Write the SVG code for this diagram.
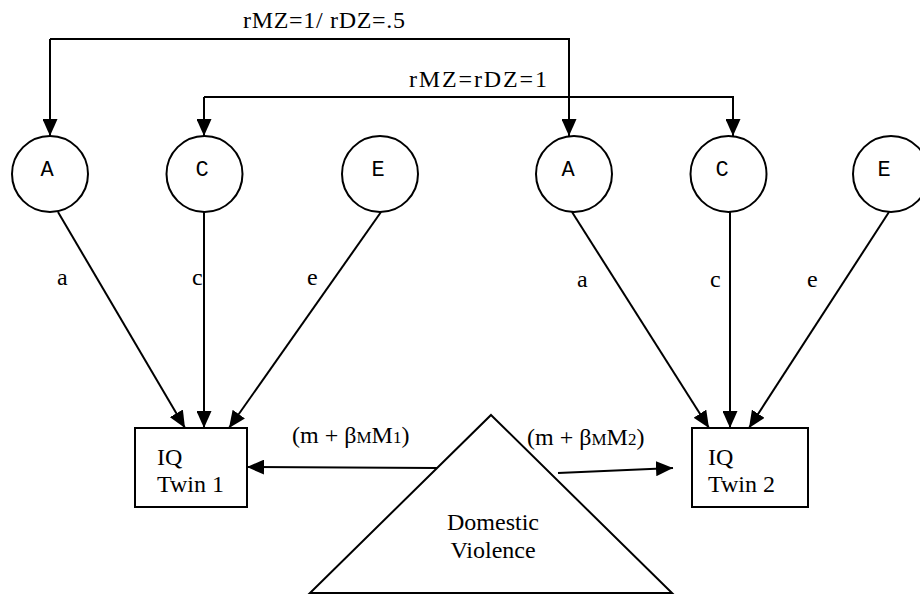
<svg xmlns="http://www.w3.org/2000/svg" width="920" height="596" viewBox="0 0 920 596">
<defs>
<marker id="ah" markerUnits="userSpaceOnUse" markerWidth="17" markerHeight="15" refX="17" refY="7.5" orient="auto">
<path d="M0,0 L17,7.5 L0,15 z" fill="#000"/>
</marker>
<marker id="ahs" markerUnits="userSpaceOnUse" markerWidth="17" markerHeight="15" refX="0" refY="7.5" orient="auto">
<path d="M17,0 L0,7.5 L17,15 z" fill="#000"/>
</marker>
<style>
.lat{fill:#fff;stroke:#000;stroke-width:2}
.lt{font-family:"Liberation Mono","Courier New",monospace;font-size:22px;fill:#000}
.t{font-family:"Liberation Serif","Times New Roman",serif;font-size:24px;fill:#000}
.box{fill:#fff;stroke:#000;stroke-width:2}
.ln{fill:none;stroke:#000;stroke-width:2}
.arr{marker-end:url(#ah)}
</style>
</defs>
<rect width="920" height="596" fill="#fff"/>

<g id="connectors">
<path class="ln arr" d="M50,39 V136"/>
<path class="ln arr" d="M50,39 H569 V136"/>
<path class="ln arr" d="M204,97 V136"/>
<path class="ln arr" d="M204,97 H733 V136"/>
<line class="ln arr" x1="58" y1="212" x2="185" y2="428"/>
<line class="ln arr" x1="204" y1="212" x2="204" y2="428"/>
<line class="ln arr" x1="381" y1="212" x2="229" y2="428"/>
<line class="ln arr" x1="572" y1="212" x2="709" y2="428"/>
<line class="ln arr" x1="730" y1="212" x2="730" y2="428"/>
<line class="ln arr" x1="889" y1="212" x2="749" y2="428"/>
<line class="ln arr" x1="437" y1="468" x2="247" y2="467"/>
<line class="ln arr" x1="558" y1="473" x2="673" y2="468"/>
<text class="t" x="243" y="28" font-size="22" textLength="162" lengthAdjust="spacing">rMZ=1/ rDZ=.5</text>
<text class="t" x="409" y="87" font-size="22" textLength="138" lengthAdjust="spacing">rMZ=rDZ=1</text>
<text class="t" x="57" y="285">a</text>
<text class="t" x="192" y="285">c</text>
<text class="t" x="307" y="285">e</text>
<text class="t" x="577" y="287">a</text>
<text class="t" x="710" y="287">c</text>
<text class="t" x="807" y="287">e</text>
<text class="t" x="292" y="443">(m + β<tspan font-size="17">M</tspan>M<tspan font-size="17">1</tspan>)</text>
<text class="t" x="527" y="445">(m + β<tspan font-size="17">M</tspan>M<tspan font-size="17">2</tspan>)</text>
</g>

<g id="A1"><circle class="lat" cx="50" cy="174" r="38"/><text class="lt" x="47" y="176" text-anchor="middle">A</text></g>
<g id="C1"><circle class="lat" cx="204.5" cy="174" r="38"/><text class="lt" x="202" y="176" text-anchor="middle">C</text></g>
<g id="E1"><circle class="lat" cx="380" cy="174" r="38"/><text class="lt" x="378" y="176" text-anchor="middle">E</text></g>
<g id="A2"><circle class="lat" cx="574" cy="174" r="38"/><text class="lt" x="568" y="176" text-anchor="middle">A</text></g>
<g id="C2"><circle class="lat" cx="728.5" cy="174" r="38"/><text class="lt" x="722" y="176" text-anchor="middle">C</text></g>
<g id="E2"><circle class="lat" cx="891" cy="174" r="38"/><text class="lt" x="884" y="176" text-anchor="middle">E</text></g>

<g id="IQ1"><rect class="box" x="135" y="428" width="112" height="79"/><text class="t" x="157" y="465">IQ</text><text class="t" x="157" y="492">Twin 1</text></g>
<g id="IQ2"><rect class="box" x="692" y="428" width="116" height="79"/><text class="t" x="708" y="465">IQ</text><text class="t" x="708" y="492">Twin 2</text></g>

<g id="DV"><polygon class="box" points="491,415 672,593 310,593"/><text class="t" x="493" y="530" text-anchor="middle">Domestic</text><text class="t" x="493" y="558" text-anchor="middle">Violence</text></g>
</svg>
